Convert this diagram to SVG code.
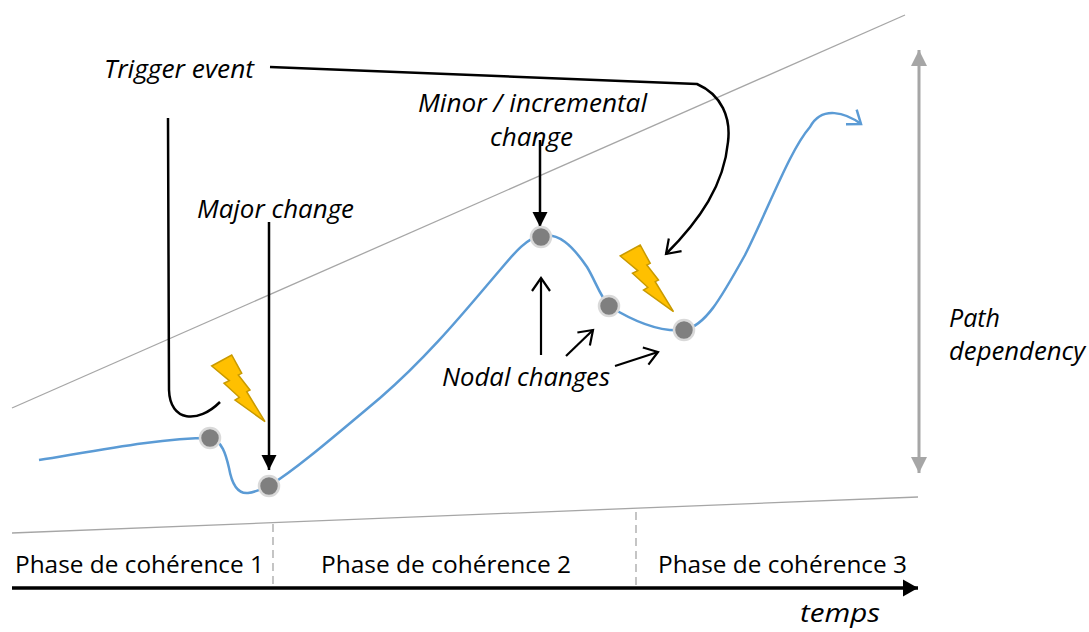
<svg xmlns="http://www.w3.org/2000/svg" width="1089" height="632" viewBox="0 0 1089 632">
<style>
.lbl{font-family:"Open Sans","Liberation Sans",sans-serif;font-style:italic;font-size:26px;fill:#000}
.phase{font-family:"Open Sans","Liberation Sans",sans-serif;font-size:24px;fill:#000}
.guide{stroke:#A6A6A6;stroke-width:1.3;fill:none}
.dash{stroke:#A6A6A6;stroke-width:1.3;stroke-dasharray:8 5;fill:none}
.blk{stroke:#000;stroke-width:2.5;fill:none}
.thin{stroke:#000;stroke-width:2.2;fill:none}
.node{fill:#7F7F7F;stroke:#D9D9D9;stroke-width:2.5}
.bolt{fill:#FFC000;stroke:#C99A00;stroke-width:1.5;stroke-linejoin:miter}
</style>
<defs>
<marker id="fillArrow" viewBox="0 -8 16 16" refX="15" refY="0" markerWidth="16" markerHeight="16" markerUnits="userSpaceOnUse" orient="auto" overflow="visible">
<path d="M0,-7.5 L15,0 L0,7.5 Z" fill="#000"/>
</marker>
<marker id="axisArrow" viewBox="0 -9 16 18" refX="15" refY="0" markerWidth="16" markerHeight="18" markerUnits="userSpaceOnUse" orient="auto" overflow="visible">
<path d="M0,-8.5 L15,0 L0,8.5 Z" fill="#000"/>
</marker>
<marker id="openArrow" viewBox="-2 -10 17 20" refX="13" refY="0" markerWidth="17" markerHeight="20" markerUnits="userSpaceOnUse" orient="auto" overflow="visible">
<path d="M0,-9 L13,0 L0,9" fill="none" stroke="#000" stroke-width="2.2"/>
</marker>
<marker id="blueArrow" viewBox="-2 -9 16 18" refX="12" refY="0" markerWidth="16" markerHeight="18" markerUnits="userSpaceOnUse" orient="auto" overflow="visible">
<path d="M0,-9 L12,0 L0,9" fill="none" stroke="#5B9BD5" stroke-width="2.5"/>
</marker>
<marker id="grayArrow" viewBox="0 -9 18 18" refX="16" refY="0" markerWidth="18" markerHeight="18" markerUnits="userSpaceOnUse" orient="auto-start-reverse" overflow="visible">
<path d="M0,-8 L16,0 L0,8 Z" fill="#A6A6A6"/>
</marker>
<path id="boltShape" class="bolt" d="M211.7,366 L231.7,355 L241.7,373.3 L238.3,375 L250,390 L246.7,391.7 L265,421.7 L235,400 L239.3,397.3 L224,383.3 L229.3,380.7 Z"/>
</defs>

<g id="guides">
<line class="guide" x1="12" y1="408" x2="905" y2="15"/>
<line class="guide" x1="12" y1="533" x2="918" y2="497"/>
<line class="dash" x1="273" y1="524" x2="273" y2="586"/>
<line class="dash" x1="636" y1="512" x2="636" y2="586"/>
</g>

<g id="axis">
<line x1="12" y1="588" x2="918" y2="588" stroke="#000" stroke-width="3.3" marker-end="url(#axisArrow)"/>
<text class="lbl" x="800" y="622" textLength="80" lengthAdjust="spacingAndGlyphs">temps</text>
</g>

<g id="phases">
<text class="phase" x="15" y="573" textLength="249" lengthAdjust="spacingAndGlyphs">Phase de cohérence 1</text>
<text class="phase" x="321" y="573" textLength="250" lengthAdjust="spacingAndGlyphs">Phase de cohérence 2</text>
<text class="phase" x="658" y="573" textLength="249" lengthAdjust="spacingAndGlyphs">Phase de cohérence 3</text>
</g>

<g id="path-dependency">
<line x1="919" y1="50" x2="919" y2="473" stroke="#A6A6A6" stroke-width="3" marker-start="url(#grayArrow)" marker-end="url(#grayArrow)"/>
<text class="lbl" x="949" y="327" textLength="51" lengthAdjust="spacingAndGlyphs">Path</text>
<text class="lbl" x="949" y="360" textLength="136" lengthAdjust="spacingAndGlyphs">dependency</text>
</g>

<g id="trajectory">
<path d="M39,460 C100,450 160,438 210,438 C222,440 226,455 229,468 C232,485 238,494 248,493 C256,492 262,489 269,486 C295,470 330,440 380,398 C430,355 470,305 500,270 C515,252 528,237 541,236 C558,232 572,245 587,267 C595,280 600,296 609,306 C625,316 655,333 684,330 C705,326 720,300 745,255 C770,205 790,150 810,127 C822,105 846,113 861,124" fill="none" stroke="#5B9BD5" stroke-width="2.5" marker-end="url(#blueArrow)"/>
</g>

<g id="connectors">
<path class="blk" d="M168,118 L169,390 C170,422 198,424 220,402"/>
<path class="blk" d="M270,67 L697,84 C722,95 731,118 728,142 C724,185 700,220 666,254" marker-end="url(#openArrow)"/>
<line class="blk" x1="269" y1="222" x2="269" y2="470" marker-end="url(#fillArrow)"/>
<line class="blk" x1="540" y1="140" x2="540" y2="227" marker-end="url(#fillArrow)"/>
<line class="thin" x1="541" y1="355" x2="541" y2="278" marker-end="url(#openArrow)"/>
<line class="thin" x1="566" y1="356" x2="593" y2="330" marker-end="url(#openArrow)"/>
<line class="thin" x1="615" y1="366" x2="658" y2="352" marker-end="url(#openArrow)"/>
</g>

<g id="bolt1"><use href="#boltShape"/></g>
<g id="bolt2"><use href="#boltShape" transform="translate(408.5,-110)"/></g>

<g id="node1"><circle class="node" cx="210" cy="438" r="10"/></g>
<g id="node2"><circle class="node" cx="269" cy="486" r="10"/></g>
<g id="node3"><circle class="node" cx="541" cy="237" r="10"/></g>
<g id="node4"><circle class="node" cx="609" cy="306" r="10"/></g>
<g id="node5"><circle class="node" cx="684" cy="330" r="10"/></g>

<g id="labels">
<text class="lbl" x="104" y="78" textLength="150" lengthAdjust="spacingAndGlyphs">Trigger event</text>
<text class="lbl" x="197" y="218" textLength="157" lengthAdjust="spacingAndGlyphs">Major change</text>
<text class="lbl" x="418" y="112" textLength="229" lengthAdjust="spacingAndGlyphs">Minor / incremental</text>
<text class="lbl" x="490" y="146" textLength="83" lengthAdjust="spacingAndGlyphs">change</text>
<text class="lbl" x="442" y="386" textLength="168" lengthAdjust="spacingAndGlyphs">Nodal changes</text>
</g>
</svg>
